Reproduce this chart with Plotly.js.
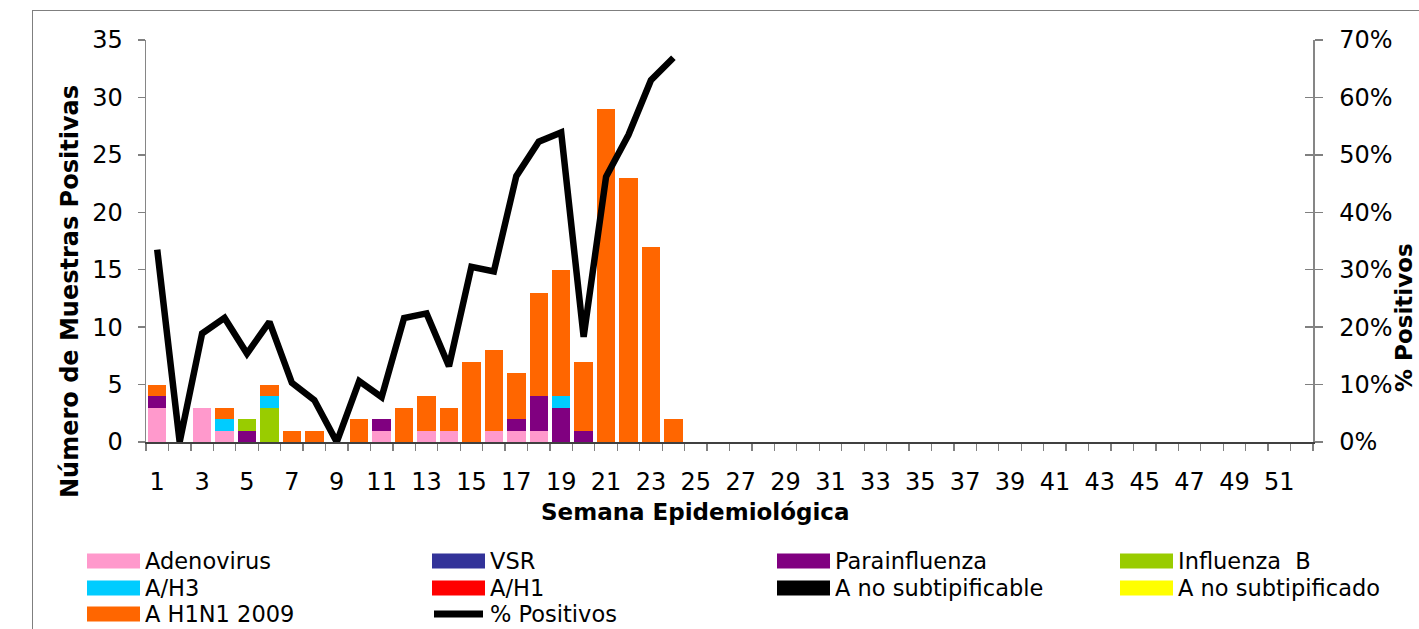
<!DOCTYPE html>
<html>
<head>
<meta charset="utf-8">
<script src="https://cdn.plot.ly/plotly-3.0.1.min.js"></script>
<style>
  html, body { margin:0; padding:0; background:#fff; overflow:hidden; }
  #frame { position:absolute; left:32px; top:10px; width:1500px; height:700px; border:1.5px solid #7f7f7f; }
  #chart { position:absolute; left:0; top:0; width:1419px; height:629px; }
</style>
</head>
<body>
<div id="frame"></div>
<div id="chart"></div>
<script>
// ---- Data ----
const weeks = [1,2,3,4,5,6,7,8,9,10,11,12,13,14,15,16,17,18,19,20,21,22,23,24];
const adenovirus        = [3,0,3,1,0,0,0,0,0,0,1,0,1,1,0,1,1,1,0,0,0,0,0,0];
const vsr               = [0,0,0,0,0,0,0,0,0,0,0,0,0,0,0,0,0,0,0,0,0,0,0,0];
const parainfluenza     = [1,0,0,0,1,0,0,0,0,0,1,0,0,0,0,0,1,3,3,1,0,0,0,0];
const influenzaB        = [0,0,0,0,1,3,0,0,0,0,0,0,0,0,0,0,0,0,0,0,0,0,0,0];
const aH3               = [0,0,0,1,0,1,0,0,0,0,0,0,0,0,0,0,0,0,1,0,0,0,0,0];
const aH1               = [0,0,0,0,0,0,0,0,0,0,0,0,0,0,0,0,0,0,0,0,0,0,0,0];
const aNoSubtipificable = [0,0,0,0,0,0,0,0,0,0,0,0,0,0,0,0,0,0,0,0,0,0,0,0];
const aNoSubtipificado  = [0,0,0,0,0,0,0,0,0,0,0,0,0,0,0,0,0,0,0,0,0,0,0,0];
const aH1N12009         = [1,0,0,1,0,1,1,1,0,2,0,3,3,2,7,7,4,9,11,6,29,23,17,2];
const pctPositivos      = [33.5,0,18.9,21.6,15.4,20.9,10.3,7.3,0,10.6,7.8,21.6,22.4,13.2,30.5,29.7,46.3,52.3,53.9,18.3,46.2,53.5,63.0,66.9];

const seriesNames  = ["Adenovirus","VSR","Parainfluenza","Influenza  B","A/H3","A/H1","A no subtipificable","A no subtipificado","A H1N1 2009"];
const seriesValues = [adenovirus, vsr, parainfluenza, influenzaB, aH3, aH1, aNoSubtipificable, aNoSubtipificado, aH1N12009];
const seriesColors = ["#FF99CC","#333399","#800080","#99CC00","#00CCFF","#FF0000","#000000","#FFFF00","#FF6600"];
const lineName = "% Positivos";

const xTickVals = [1,3,5,7,9,11,13,15,17,19,21,23,25,27,29,31,33,35,37,39,41,43,45,47,49,51];
const leftTicks = [0,5,10,15,20,25,30,35];
const rightTicks = [0,10,20,30,40,50,60,70];

// ---- Geometry (pixels) ----
const W = 1419, H = 629;
const L = 146, R = 1313, T = 40, B = 442;
const px = x => (x - L) / (R - L);
const py = y => (B - y) / (B - T);

const FONT = "DejaVu Sans, Arial, sans-serif";

const traces = seriesNames.map((n, i) => ({
  type: "bar", name: n, x: weeks, y: seriesValues[i],
  marker: { color: seriesColors[i], line: { width: 0 } },
  showlegend: false, hoverinfo: "skip"
}));
traces.push({
  type: "scatter", mode: "lines", name: lineName, x: weeks, y: pctPositivos,
  yaxis: "y2", line: { color: "#000", width: 6.5 }, showlegend: false
});
// helper trace to give yaxis3 (inside right ticks) an anchor
traces.push({ type: "scatter", x: [1], y: [0], yaxis: "y3", mode: "markers",
  marker: { opacity: 0 }, showlegend: false, hoverinfo: "skip" });

const shapes = [];
const annotations = [];

// Legend (built from the series)
const colX = [87, 432, 777, 1120];
const rowY = [561, 588, 614];
const legendItems = seriesNames.map((n, i) => ({ name: n, color: seriesColors[i], kind: "bar" }));
legendItems.push({ name: lineName, color: "#000", kind: "line" });
legendItems.forEach((it, k) => {
  const c = k % 4, r = Math.floor(k / 4);
  const x0 = colX[c], x1 = colX[c] + 53, yc = rowY[r];
  if (it.kind === "bar") {
    shapes.push({ type: "rect", xref: "paper", yref: "paper",
      x0: px(x0), x1: px(x1), y0: py(yc + 7.5), y1: py(yc - 7.5),
      fillcolor: it.color, line: { width: 0 } });
  } else {
    shapes.push({ type: "line", xref: "paper", yref: "paper",
      x0: px(x0 + 2), x1: px(x1 - 2), y0: py(yc), y1: py(yc),
      line: { color: it.color, width: 7 } });
  }
  annotations.push({ xref: "paper", yref: "paper", x: px(x1 + 3), y: py(yc),
    xanchor: "left", yanchor: "middle", showarrow: false, text: it.name,
    font: { family: FONT, size: 22.5, color: "#000" } });
});

// Axis titles
annotations.push({ xref: "paper", yref: "paper", x: px(695), y: py(512),
  xanchor: "center", yanchor: "middle", showarrow: false,
  text: "<b>Semana Epidemiológica</b>", font: { family: FONT, size: 23, color: "#000" } });
annotations.push({ xref: "paper", yref: "paper", x: px(70), y: py(292),
  xanchor: "center", yanchor: "middle", showarrow: false, textangle: -90,
  text: "<b>Número de Muestras Positivas</b>", font: { family: FONT, size: 24, color: "#000" } });
annotations.push({ xref: "paper", yref: "paper", x: px(1404), y: py(318),
  xanchor: "center", yanchor: "middle", showarrow: false, textangle: -90,
  text: "<b>% Positivos</b>", font: { family: FONT, size: 23, color: "#000" } });

const layout = {
  width: W, height: H,
  margin: { l: L, r: W - R, t: T, b: H - B, pad: 0 },
  paper_bgcolor: "rgba(0,0,0,0)", plot_bgcolor: "rgba(0,0,0,0)",
  barmode: "stack", bargap: 0.18,
  showlegend: false,
  font: { family: FONT, size: 24, color: "#000" },
  xaxis: {
    type: "linear", range: [0.5, 52.5], tickmode: "array", tickvals: xTickVals,
    ticktext: xTickVals.map(String),
    ticks: "outside", ticklen: 0, ticklabelstandoff: 18,
    showgrid: false, zeroline: false,
    showline: true, linecolor: "#404040", linewidth: 1.5,
    minor: { tick0: 0.5, dtick: 1, ticks: "outside", ticklen: 7, tickwidth: 1.3, tickcolor: "#808080", showgrid: false },
    tickfont: { family: FONT, size: 24, color: "#000" }, fixedrange: true
  },
  yaxis: {
    range: [0, 35], tickmode: "array", tickvals: leftTicks,
    ticks: "outside", ticklen: 7, tickwidth: 1.3, tickcolor: "#808080",
    ticklabelstandoff: 10,
    showgrid: false, zeroline: false, showline: true, linecolor: "#868686", linewidth: 1.5,
    tickfont: { family: FONT, size: 24, color: "#000" }, fixedrange: true
  },
  yaxis2: {
    overlaying: "y", side: "right", range: [0, 70], tickmode: "array",
    tickvals: rightTicks, ticktext: rightTicks.map(v => v + "%"),
    ticks: "outside", ticklen: 8, tickwidth: 1.3, tickcolor: "#808080",
    ticklabelstandoff: 12,
    showgrid: false, zeroline: false, showline: true, linecolor: "#868686", linewidth: 1.5,
    tickfont: { family: FONT, size: 24, color: "#000" }, fixedrange: true
  },
  yaxis3: {
    overlaying: "y", side: "right", range: [0, 70], tickmode: "array",
    tickvals: rightTicks, ticks: "inside", ticklen: 8, tickwidth: 1.3, tickcolor: "#808080",
    showticklabels: false, showgrid: false, zeroline: false, showline: false, fixedrange: true
  },
  shapes: shapes,
  annotations: annotations
};

Plotly.newPlot("chart", traces, layout, { displayModeBar: false, staticPlot: true });
</script>
</body>
</html>
